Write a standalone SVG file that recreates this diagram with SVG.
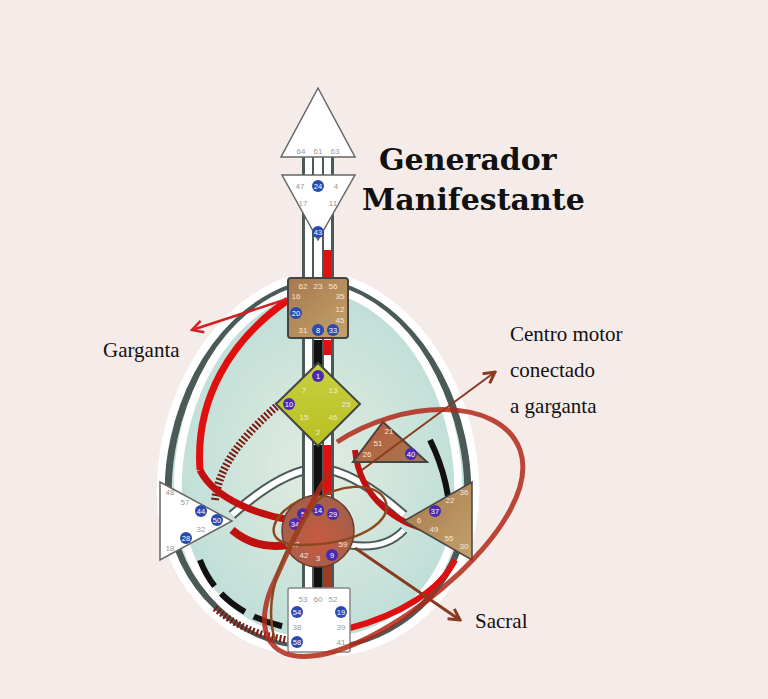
<svg xmlns="http://www.w3.org/2000/svg" width="768" height="699" viewBox="0 0 768 699">
<defs>
<linearGradient id="gBrown" x1="0" y1="0" x2="1" y2="1"><stop offset="0" stop-color="#a8784e"/><stop offset="1" stop-color="#c2a26a"/></linearGradient>
<linearGradient id="gG" x1="0" y1="0" x2="0" y2="1"><stop offset="0" stop-color="#c8d040"/><stop offset="1" stop-color="#b8c020"/></linearGradient>
<radialGradient id="gSac" cx="0.5" cy="0.6" r="0.6"><stop offset="0" stop-color="#c85a40"/><stop offset="1" stop-color="#a0604a"/></radialGradient>
<linearGradient id="gHeart" x1="0" y1="0" x2="1" y2="1"><stop offset="0" stop-color="#c0583a"/><stop offset="1" stop-color="#a07a50"/></linearGradient>
<radialGradient id="gBody" cx="0.5" cy="0.5" r="0.6"><stop offset="0" stop-color="#e2ece0"/><stop offset="1" stop-color="#b8dcd6"/></radialGradient>
<marker id="arR" markerWidth="14" markerHeight="14" refX="12" refY="7" orient="auto" markerUnits="userSpaceOnUse"><path d="M1,1 L12,7 L1,13" fill="none" stroke="#d42020" stroke-width="2.5"/></marker>
<marker id="arB" markerWidth="14" markerHeight="14" refX="12" refY="7" orient="auto" markerUnits="userSpaceOnUse"><path d="M1,1 L12,7 L1,13" fill="none" stroke="#8a3a20" stroke-width="3"/></marker>
</defs>
<style>
.bandO{fill:none;stroke:#4a5a58;stroke-width:12}
.bandW{fill:none;stroke:#ffffff;stroke-width:8}
.gt{font-family:"Liberation Sans",Arial,sans-serif;font-size:8px;fill:#999;text-anchor:middle}
.gw{font-family:"Liberation Sans",Arial,sans-serif;font-size:8px;fill:#f4e8d8;text-anchor:middle}
.gb{font-family:"Liberation Sans",Arial,sans-serif;font-size:7.5px;fill:#fff;text-anchor:middle}
.lab{font-family:"Liberation Serif","DejaVu Serif",serif;font-size:21px;fill:#111}
.ttl{font-family:"DejaVu Serif","Liberation Serif",serif;font-size:30px;font-weight:bold;fill:#111}
</style>
<rect width="768" height="699" fill="#f5ecea"/>

<g id="connectors">
<path d="M300,290 C210,320 168,420 172,500 C176,590 250,640 318,645 C386,640 460,590 464,500 C468,420 426,320 336,290 Z" fill="url(#gBody)"/>
<path class="bandO" d="M290,285 C205,315 162,420 166,500 C170,595 245,645 300,648" stroke-width="26"/>
<path class="bandW" d="M290,280 C200,312 157,420 161,500 C165,598 245,650 300,652"/>
<path class="bandW" d="M292,292 C212,322 174,420 178,500 C182,590 250,638 300,640"/>
<path class="bandO" d="M346,285 C431,315 474,420 470,500 C466,595 391,645 336,648" stroke-width="26"/>
<path class="bandW" d="M346,280 C436,312 479,420 475,500 C471,598 391,650 336,652"/>
<path class="bandW" d="M344,292 C424,322 462,420 458,500 C454,590 386,638 336,640"/>
<path d="M288,300 C230,340 195,400 200,470" fill="none" stroke="#e01010" stroke-width="7"/>
<path d="M200,560 C215,600 250,620 290,628" fill="none" stroke="#111" stroke-width="6" stroke-dasharray="30,10"/>
<path d="M215,608 C240,630 265,636 288,640" fill="none" stroke="#7a1a10" stroke-width="7" stroke-dasharray="2,2"/>
<path d="M350,628 C400,615 440,590 455,560" fill="none" stroke="#e01010" stroke-width="6"/>
<path d="M430,440 C445,470 450,500 450,520" fill="none" stroke="#111" stroke-width="6"/>
<path d="M232,515 C260,490 290,470 318,468 C346,470 376,490 404,515" fill="none" stroke="#4a5a58" stroke-width="10"/>
<path d="M232,515 C260,490 290,470 318,468 C346,470 376,490 404,515" fill="none" stroke="#fff" stroke-width="6"/>
<path d="M232,530 C250,545 270,548 288,545" fill="none" stroke="#c01010" stroke-width="8"/>
<path d="M350,545 C370,548 390,545 404,530" fill="none" stroke="#4a5a58" stroke-width="9"/>
<path d="M350,545 C370,548 390,545 404,530" fill="none" stroke="#fff" stroke-width="5"/>
<path d="M215,500 C220,460 250,430 278,405" fill="none" stroke="#7a1a10" stroke-width="8" stroke-dasharray="2,2"/>
<path d="M200,470 C215,500 260,515 290,520" fill="none" stroke="#c01010" stroke-width="7"/>
<path d="M355,450 C360,500 400,525 430,530" fill="none" stroke="#c01010" stroke-width="6"/>
<rect x="302" y="157" width="32" height="493" fill="#4a5a58"/>
<rect x="305" y="157" width="7" height="493" fill="#fff"/>
<rect x="314" y="157" width="8" height="493" fill="#fff"/>
<rect x="324" y="157" width="7" height="493" fill="#fff"/>
<rect x="314" y="340" width="8" height="25" fill="#111"/>
<rect x="324" y="340" width="7" height="15" fill="#e01010"/>
<rect x="324" y="250" width="7" height="28" fill="#e01010"/>
<rect x="314" y="445" width="8" height="50" fill="#111"/>
<rect x="324" y="445" width="7" height="50" fill="#e01010"/>
<rect x="314" y="565" width="8" height="25" fill="#111"/>
<rect x="324" y="565" width="7" height="25" fill="#a03a20"/>
</g>

<g id="head">
<path d="M318,88 L355,157 L281,157 Z" fill="#fff" stroke="#666" stroke-width="1.5"/>
<text class="gt" x="301" y="154">64</text><text class="gt" x="318" y="154">61</text><text class="gt" x="335" y="154">63</text>
</g>
<g id="ajna">
<path d="M282,175 L355,175 L318,240 Z" fill="#fff" stroke="#666" stroke-width="1.5"/>
<text class="gt" x="300" y="189">47</text><circle cx="318" cy="186" r="6" fill="#2a4ab0"/><text class="gb" x="318" y="189">24</text><text class="gt" x="336" y="189">4</text>
<text class="gt" x="303" y="206">17</text><text class="gt" x="333" y="206">11</text>
<circle cx="318" cy="232" r="6" fill="#2a4ab0"/><text class="gb" x="318" y="235">43</text>
</g>
<g id="throat">
<rect x="288" y="278" width="60" height="60" rx="3" fill="url(#gBrown)" stroke="#444" stroke-width="2"/>
<text class="gw" x="303" y="289">62</text><text class="gw" x="318" y="289">23</text><text class="gw" x="333" y="289">56</text>
<text class="gw" x="296" y="299">16</text><text class="gw" x="340" y="299">35</text>
<circle cx="296" cy="313" r="6" fill="#2a4ab0"/><text class="gb" x="296" y="316">20</text>
<text class="gw" x="340" y="312">12</text><text class="gw" x="340" y="323">45</text>
<text class="gw" x="303" y="333">31</text>
<circle cx="318" cy="330" r="6" fill="#2a4ab0"/><text class="gb" x="318" y="333">8</text>
<circle cx="333" cy="330" r="6" fill="#2a4ab0"/><text class="gb" x="333" y="333">33</text>
</g>
<g id="g-center">
<path d="M318,363 L360,404 L318,446 L276,404 Z" fill="url(#gG)" stroke="#444" stroke-width="2"/>
<circle cx="318" cy="376" r="6" fill="#4a2ab0"/><text class="gb" x="318" y="379">1</text>
<text class="gw" x="304" y="393">7</text><text class="gw" x="333" y="393">13</text>
<circle cx="289" cy="404" r="6" fill="#4a2ab0"/><text class="gb" x="289" y="407">10</text>
<text class="gw" x="346" y="407">25</text>
<text class="gw" x="304" y="420">15</text><text class="gw" x="333" y="420">46</text>
<text class="gw" x="318" y="435">2</text>
</g>
<g id="heart">
<path d="M383,422 L427,462 L353,462 Z" fill="url(#gHeart)" stroke="#444" stroke-width="2"/>
<text class="gw" x="389" y="434">21</text><text class="gw" x="378" y="446">51</text><text class="gw" x="367" y="457">26</text>
<circle cx="411" cy="454" r="6" fill="#4a2ab0"/><text class="gb" x="411" y="457">40</text>
</g>
<g id="spleen">
<path d="M160,482 L232,521 L160,560 Z" fill="#fff" stroke="#666" stroke-width="1.5"/>
<text class="gt" x="170" y="495">48</text><text class="gt" x="185" y="505">57</text>
<circle cx="201" cy="511" r="6" fill="#2a4ab0"/><text class="gb" x="201" y="514">44</text>
<circle cx="217" cy="520" r="6" fill="#2a4ab0"/><text class="gb" x="217" y="523">50</text>
<text class="gt" x="201" y="532">32</text>
<circle cx="186" cy="538" r="6" fill="#2a4ab0"/><text class="gb" x="186" y="541">28</text>
<text class="gt" x="170" y="551">18</text>
</g>
<g id="solar-plexus">
<path d="M472,482 L472,560 L404,521 Z" fill="url(#gBrown)" stroke="#444" stroke-width="1.5"/>
<text class="gw" x="464" y="495">36</text><text class="gw" x="450" y="503">22</text>
<circle cx="435" cy="511" r="6" fill="#4a2ab0"/><text class="gb" x="435" y="514">37</text>
<text class="gw" x="419" y="523">6</text><text class="gw" x="434" y="532">49</text>
<text class="gw" x="449" y="541">55</text><text class="gw" x="464" y="549">30</text>
</g>
<g id="sacral">
<circle cx="318" cy="531" r="36" fill="url(#gSac)" stroke="#6a3a30" stroke-width="1.5"/>
<circle cx="303" cy="514" r="6" fill="#4a2ab0"/><text class="gb" x="303" y="517">5</text>
<circle cx="318" cy="510" r="6" fill="#4a2ab0"/><text class="gb" x="318" y="513">14</text>
<circle cx="333" cy="514" r="6" fill="#4a2ab0"/><text class="gb" x="333" y="517">29</text>
<circle cx="295" cy="524" r="6" fill="#4a2ab0"/><text class="gb" x="295" y="527">34</text>
<text class="gw" x="295" y="547">27</text><text class="gw" x="343" y="547">59</text>
<text class="gw" x="304" y="558">42</text><text class="gw" x="318" y="561">3</text>
<circle cx="332" cy="555" r="6" fill="#4a2ab0"/><text class="gb" x="332" y="558">9</text>
</g>
<g id="root">
<rect x="288" y="588" width="62" height="64" rx="2" fill="#fff" stroke="#888" stroke-width="1.5"/>
<text class="gt" x="303" y="602">53</text><text class="gt" x="318" y="602">60</text><text class="gt" x="333" y="602">52</text>
<circle cx="297" cy="612" r="6" fill="#2a4ab0"/><text class="gb" x="297" y="615">54</text>
<circle cx="341" cy="612" r="6" fill="#2a4ab0"/><text class="gb" x="341" y="615">19</text>
<text class="gt" x="297" y="630">38</text><text class="gt" x="341" y="630">39</text>
<circle cx="297" cy="642" r="6" fill="#2a4ab0"/><text class="gb" x="297" y="645">58</text>
<text class="gt" x="341" y="645">41</text>
</g>

<g id="annotations">
<path d="M287,299 L192,330" fill="none" stroke="#d42020" stroke-width="2.5" marker-end="url(#arR)"/>
<path d="M362,470 L495,372" fill="none" stroke="#8a3a20" stroke-width="2" marker-end="url(#arB)"/>
<path d="M355,548 L460,620" fill="none" stroke="#8a3a20" stroke-width="3" marker-end="url(#arB)"/>
<path d="M337,442 C400,400 500,395 520,450 C545,520 400,640 320,655 C260,665 255,620 275,580 C290,545 310,505 330,470" fill="none" stroke="#b02818" stroke-width="5" opacity="0.85"/>
<path d="M300,500 C270,515 260,545 300,545 C360,545 395,520 385,500 C375,480 335,485 318,500 C290,540 260,590 275,640" fill="none" stroke="#8a4a20" stroke-width="2.5"/>
<text class="ttl" x="379" y="170">Generador</text>
<text class="ttl" x="362" y="210">Manifestante</text>
<text class="lab" x="103" y="357">Garganta</text>
<text class="lab" x="510" y="341">Centro motor</text>
<text class="lab" x="510" y="377">conectado</text>
<text class="lab" x="510" y="413">a garganta</text>
<text class="lab" x="475" y="628">Sacral</text>
</g>
</svg>
